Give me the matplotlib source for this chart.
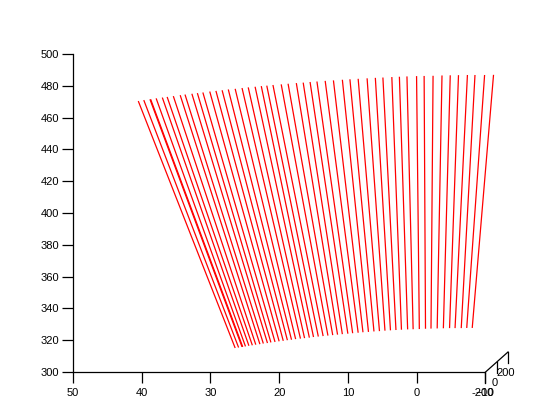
import numpy as np
import matplotlib
matplotlib.use("Agg")
import matplotlib.pyplot as plt

plt.rcParams["font.family"] = ["Liberation Sans", "DejaVu Sans"]

# line end points (x, z at top and bottom of each line)
x_top = [40.5, 39.7, 38.8, 38.7, 37.9, 37.0, 36.3, 35.4, 34.4, 33.7, 32.7, 31.9, 31.1,
         30.1, 29.2, 28.3, 27.4, 26.4, 25.4, 24.5, 23.5, 22.6, 21.8, 20.9, 19.7,
         18.7, 17.5, 16.5, 15.5, 14.5, 13.3, 12.1, 10.8, 9.7, 8.5, 7.2, 6.0, 4.9,
         3.6, 2.5, 1.4, 0.0, -1.1, -2.4, -3.7, -4.9, -6.1, -7.4, -8.5, -9.9, -11.2]
z_top = [470.4, 471.0, 471.5, 471.5, 472.1, 472.6, 473.0, 473.5, 474.1, 474.5, 475.0,
         475.4, 475.8, 476.4, 476.8, 477.2, 477.7, 478.1, 478.6, 479.0, 479.4,
         479.8, 480.1, 480.5, 480.9, 481.3, 481.7, 482.0, 482.4, 482.7, 483.1,
         483.4, 483.8, 484.1, 484.4, 484.7, 485.0, 485.2, 485.5, 485.7, 485.9,
         486.1, 486.2, 486.3, 486.5, 486.6, 486.7, 486.8, 486.8, 486.8, 486.9]
x_bot = [26.4, 25.9, 25.4, 25.3, 24.9, 24.4, 23.9, 23.4, 22.8, 22.3, 21.7, 21.2, 20.6,
         20.0, 19.4, 18.8, 18.2, 17.6, 16.9, 16.3, 15.6, 15.0, 14.3, 13.6, 12.9,
         12.2, 11.5, 10.8, 10.0, 9.3, 8.5, 7.8, 7.0, 6.2, 5.4, 4.6, 3.8, 3.0, 2.2,
         1.3, 0.5, -0.4, -1.3, -2.1, -3.0, -3.9, -4.8, -5.6, -6.5, -7.3, -8.1]
z_bot = [315.1, 315.4, 315.8, 315.8, 316.1, 316.5, 316.8, 317.2, 317.5, 317.9, 318.2,
         318.6, 318.9, 319.3, 319.6, 320.0, 320.3, 320.7, 321.0, 321.3, 321.6,
         322.0, 322.3, 322.6, 322.9, 323.2, 323.5, 323.8, 324.1, 324.4, 324.7,
         325.0, 325.2, 325.5, 325.7, 326.0, 326.2, 326.4, 326.6, 326.8, 326.9,
         327.0, 327.2, 327.3, 327.4, 327.5, 327.6, 327.6, 327.6, 327.7, 327.7]

x_ticks = [50, 40, 30, 20, 10, 0, -10]
z_ticks = [300, 320, 340, 360, 380, 400, 420, 440, 460, 480, 500]
depth_ticks = [-200, 0, 200]

fig = plt.figure(figsize=(5.6, 4.2), dpi=100)
ax = fig.add_axes([73 / 560, 48 / 420, 481 / 560, 318 / 420])

for xt, zt, xb, zb in zip(x_top, z_top, x_bot, z_bot):
    ax.plot([xt, xb], [zt, zb], color="red", lw=0.9, solid_capstyle="butt")

ax.set_xlim(50, -20)
ax.set_ylim(300, 500)
ax.set_xticks(x_ticks)
ax.set_yticks(z_ticks)
ax.spines["top"].set_visible(False)
ax.spines["right"].set_visible(False)
ax.spines["bottom"].set_bounds(-10, 50)
ax.spines["left"].set_linewidth(0.9)
ax.spines["bottom"].set_linewidth(0.9)
ax.tick_params(direction="out", length=8, width=0.9, labelsize=8, pad=2)
ax.tick_params(axis="x", pad=3.5)
ax.set_facecolor("none")

# depth axis drawn by hand in pixel space
ov = fig.add_axes([0, 0, 1, 1])
ov.set_xlim(0, 560)
ov.set_ylim(420, 0)
ov.axis("off")
x0, y0, x1, y1 = 485, 372.5, 508, 352
ov.plot([x0, x1], [y0, y1], color="black", lw=0.9)
for i, lab in enumerate(depth_ticks):
    f = i / (len(depth_ticks) - 1)
    tx = x0 + f * (x1 - x0)
    ty = y0 + f * (y1 - y0)
    ov.plot([tx, tx], [ty, ty + 10.5], color="black", lw=0.9)
    ov.text(tx - 2, ty + 20.5, str(lab), ha="center", va="center", fontsize=8)

fig.savefig("out.png", dpi=100)
